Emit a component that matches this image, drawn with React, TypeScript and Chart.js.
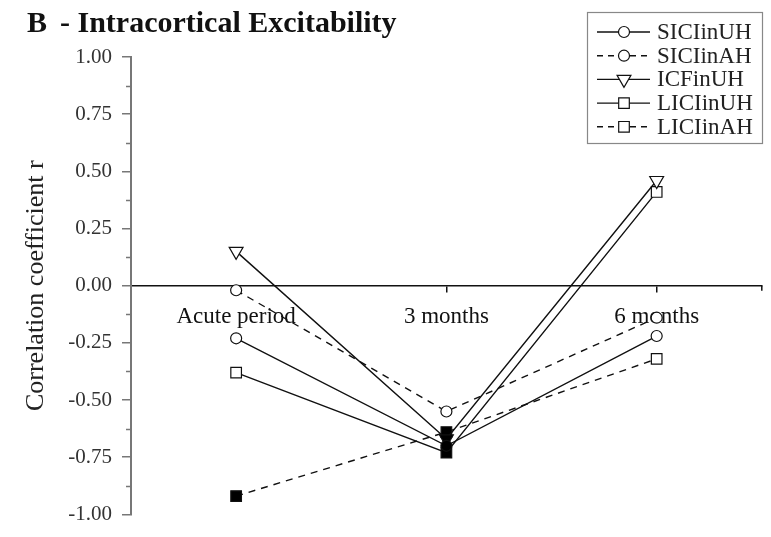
import React, { useEffect, useRef } from 'react';
import { Chart, registerables } from 'chart.js';

Chart.register(...registerables);

const categories = ['Acute period', '3 months', '6 months'];
const seriesNames = ['SICIinUH', 'SICIinAH', 'ICFinUH', 'LICIinUH', 'LICIinAH'];
const siciUH = [-0.23, -0.70, -0.22];
const siciAH = [-0.02, -0.55, -0.14];
const icfUH = [0.15, -0.67, 0.46];
const liciUH = [-0.38, -0.73, 0.41];
const liciAH = [-0.92, -0.64, -0.32];
// filled markers (significant) per series
const filledUH = [false, true, false];
const filledAH = [false, false, false];
const filledLAH = [true, true, false];
const majorTicks = [-1.0, -0.75, -0.5, -0.25, 0.0, 0.25, 0.5, 0.75, 1.0];
const minorTicks = [-0.875, -0.625, -0.375, -0.125, 0.125, 0.375, 0.625, 0.875];

const SERIF = '"Liberation Serif", "Times New Roman", serif';
const INK = '#111';

type Marker = 'circle' | 'rect' | 'triangle';
const styles: { dash: number[]; marker: Marker }[] = [
  { dash: [], marker: 'circle' },
  { dash: [7, 6], marker: 'circle' },
  { dash: [], marker: 'triangle' },
  { dash: [], marker: 'rect' },
  { dash: [7, 6], marker: 'rect' },
];
const seriesData = [siciUH, siciAH, icfUH, liciUH, liciAH];
const seriesFilled = [filledUH, filledAH, filledUH, filledUH, filledLAH];

function radiusFor(m: Marker) {
  return m === 'circle' ? 5.5 : m === 'rect' ? 7.5 : 8;
}

function drawMarker(ctx: CanvasRenderingContext2D, m: Marker, x: number, y: number) {
  ctx.beginPath();
  if (m === 'circle') {
    ctx.arc(x, y, 5.5, 0, Math.PI * 2);
  } else if (m === 'rect') {
    const s = 7.5 * Math.SQRT1_2;
    ctx.rect(x - s, y - s, 2 * s, 2 * s);
  } else {
    const r = 8;
    let a = Math.PI;
    ctx.moveTo(x + Math.sin(a) * r, y - Math.cos(a) * r);
    a += (2 * Math.PI) / 3;
    ctx.lineTo(x + Math.sin(a) * r, y - Math.cos(a) * r);
    a += (2 * Math.PI) / 3;
    ctx.lineTo(x + Math.sin(a) * r, y - Math.cos(a) * r);
    ctx.closePath();
  }
  ctx.fillStyle = '#fff';
  ctx.fill();
  ctx.setLineDash([]);
  ctx.lineWidth = 1.2;
  ctx.strokeStyle = INK;
  ctx.stroke();
}

const decorPlugin = {
  id: 'decor',
  afterDraw(chart: any) {
    const ctx: CanvasRenderingContext2D = chart.ctx;
    const yScale = chart.scales.y;
    const xScale = chart.scales.x;
    const area = chart.chartArea;
    ctx.save();
    // minor ticks on y axis
    ctx.strokeStyle = '#777';
    ctx.lineWidth = 1.5;
    ctx.setLineDash([]);
    minorTicks.forEach((v) => {
      const py = Math.round(yScale.getPixelForValue(v)) + 0.5;
      ctx.beginPath();
      ctx.moveTo(area.left - 5, py);
      ctx.lineTo(area.left, py);
      ctx.stroke();
    });
    // end tick on x axis
    const zy = yScale.getPixelForValue(0);
    ctx.strokeStyle = INK;
    ctx.beginPath();
    ctx.moveTo(xScale.right, zy);
    ctx.lineTo(xScale.right, zy + 5);
    ctx.stroke();

    // Title
    ctx.fillStyle = '#111';
    ctx.textBaseline = 'alphabetic';
    ctx.textAlign = 'left';
    ctx.font = `bold 30px ${SERIF}`;
    ctx.fillText('B', 27, 32);
    ctx.fillText('- Intracortical Excitability', 60, 32);

    // Y title
    ctx.save();
    ctx.translate(36, (area.top + area.bottom) / 2);
    ctx.rotate(-Math.PI / 2);
    ctx.textAlign = 'center';
    ctx.textBaseline = 'middle';
    ctx.font = `26px ${SERIF}`;
    ctx.fillStyle = '#222';
    ctx.fillText('Correlation coefficient r', 0, 0);
    ctx.restore();

    // Legend
    const bx = 587.5, by = 12.5, bw = 175, bh = 131;
    ctx.strokeStyle = '#888';
    ctx.lineWidth = 1.2;
    ctx.strokeRect(bx, by, bw, bh);
    ctx.font = `23px ${SERIF}`;
    ctx.textBaseline = 'middle';
    ctx.textAlign = 'left';
    seriesNames.forEach((name, i) => {
      const ry = 32 + i * 23.7;
      ctx.strokeStyle = INK;
      ctx.lineWidth = 1.4;
      ctx.setLineDash(styles[i].dash.length ? [6, 5] : []);
      ctx.beginPath();
      ctx.moveTo(597, ry);
      ctx.lineTo(650, ry);
      ctx.stroke();
      drawMarker(ctx, styles[i].marker, 624, ry);
      ctx.fillStyle = '#222';
      ctx.fillText(name, 657, ry + 1);
    });
    ctx.restore();
  },
};

export default function App() {
  const ref = useRef<HTMLCanvasElement>(null);
  useEffect(() => {
    if (!ref.current) return;
    const datasets = seriesNames.map((name, i) => ({
      label: name,
      data: seriesData[i],
      borderColor: INK,
      borderWidth: 1.4,
      borderDash: styles[i].dash,
      pointStyle: styles[i].marker,
      pointRadius: radiusFor(styles[i].marker),
      pointRotation: styles[i].marker === 'triangle' ? 180 : 0,
      pointBackgroundColor: seriesFilled[i].map((f) => (f ? '#000' : '#fff')),
      pointBorderColor: INK,
      pointBorderWidth: 1.2,
      fill: false,
      tension: 0,
    }));
    const chart = new Chart(ref.current, {
      type: 'line',
      data: { labels: categories, datasets },
      options: {
        animation: false,
        responsive: false,
        devicePixelRatio: 1,
        layout: { padding: { top: 57, right: 9, bottom: 18, left: 0 } },
        plugins: { legend: { display: false }, title: { display: false }, tooltip: { enabled: false } },
        scales: {
          x: {
            type: 'category',
            position: { y: 0 } as any,
            offset: true,
            grid: { display: true, drawOnChartArea: false, tickLength: 6, tickColor: INK, lineWidth: 1.5 },
            border: { display: true, color: INK, width: 1.5 },
            ticks: { color: '#111', padding: 11, font: { family: SERIF, size: 23 }, maxRotation: 0 },
          },
          y: {
            min: -1,
            max: 1,
            afterFit: (s: any) => { s.width = 131; },
            afterBuildTicks: (s: any) => { s.ticks = majorTicks.map((v) => ({ value: v })); },
            grid: { display: true, drawOnChartArea: false, tickLength: 9, tickColor: '#777', lineWidth: 1.5 },
            border: { display: true, color: '#777', width: 2 },
            ticks: {
              color: '#333',
              padding: 10,
              font: { family: SERIF, size: 21 },
              callback: (v: any) => Number(v).toFixed(2),
            },
          },
        },
      },
      plugins: [decorPlugin],
    });
    return () => chart.destroy();
  }, []);
  return (
    <div style={{ position: 'fixed', left: 0, top: 0, width: 771, height: 537, background: '#fff' }}>
      <canvas ref={ref} width={771} height={537} />
    </div>
  );
}
